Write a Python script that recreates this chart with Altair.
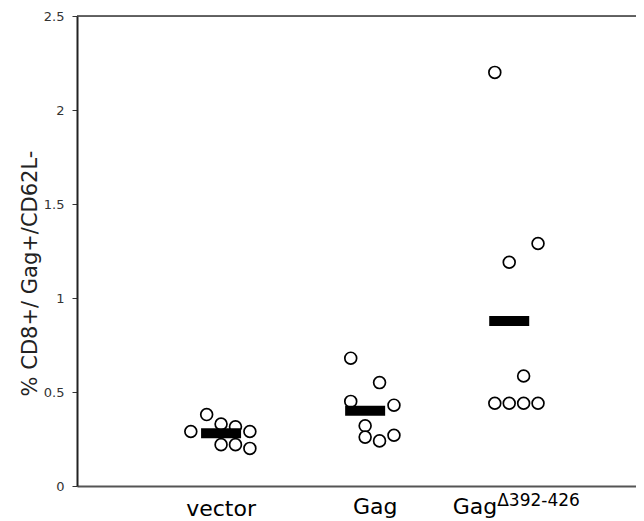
import altair as alt
import pandas as pd

# ---- data ----
categories = ["vector", "Gag", "Gag"]
superscript = "Δ392-426"
group_centers = [1, 2, 3]

vector_values = [0.38, 0.29, 0.33, 0.315, 0.29, 0.22, 0.22, 0.20]
vector_jitter = [-0.10, -0.21, 0.0, 0.10, 0.20, 0.0, 0.10, 0.20]

gag_values = [0.68, 0.55, 0.45, 0.43, 0.32, 0.26, 0.24, 0.27]
gag_jitter = [-0.10, 0.10, -0.10, 0.20, 0.0, 0.0, 0.10, 0.20]

gagd_values = [2.20, 1.29, 1.19, 0.585, 0.44, 0.44, 0.44, 0.44]
gagd_jitter = [-0.10, 0.20, 0.0, 0.10, -0.10, 0.0, 0.10, 0.20]

y_ticks = [0, 0.5, 1, 1.5, 2, 2.5]
y_title = "% CD8+/ Gag+/CD62L-"

# ---- build table ----
rows = []
for gi, (vals, jit) in enumerate([(vector_values, vector_jitter),
                                  (gag_values, gag_jitter),
                                  (gagd_values, gagd_jitter)]):
    for v, j in zip(vals, jit):
        rows.append({"group": gi, "center": group_centers[gi],
                     "x": group_centers[gi] + j, "value": v})
df = pd.DataFrame(rows)
labels = pd.DataFrame({"group": [0, 1, 2], "center": group_centers,
                       "label": categories,
                       "sup": ["", "", superscript]})

xscale = alt.Scale(domain=[0, 3.88], nice=False, zero=False)
yscale = alt.Scale(domain=[0, 2.5], nice=False)

xaxis = alt.Axis(labels=False, ticks=False, title=None, grid=False,
                 domainColor="#555", domainWidth=2)
yaxis = alt.Axis(values=y_ticks, format="~g", grid=False, tickSize=5,
                 tickColor="#333", tickWidth=1, domainColor="#222",
                 domainWidth=2, labelFontSize=13, labelColor="#333",
                 labelPadding=8, title=y_title, titleFontSize=21,
                 titleFontWeight="normal", titleColor="#222",
                 titleX=-47, titleY=257, titleBaseline="middle",
                 titleAngle=270, titleAlign="center")

points = alt.Chart(df).mark_circle(
    fill="white", stroke="black", strokeWidth=1.7, size=140,
    opacity=1, fillOpacity=1
).encode(
    x=alt.X("x:Q", scale=xscale, axis=xaxis),
    y=alt.Y("value:Q", scale=yscale, axis=yaxis),
)

means = alt.Chart(df).mark_tick(
    orient="horizontal", size=40, thickness=10, color="black", opacity=1
).encode(
    x=alt.X("center:Q", scale=xscale),
    y=alt.Y("mean(value):Q", scale=yscale),
)

top_rule = alt.Chart(pd.DataFrame({"a": [0]})).mark_rule(
    color="#333", strokeWidth=1.5
).encode(y=alt.datum(2.5))

lab_base = alt.Chart(labels)
lab_vector = lab_base.transform_filter("datum.group == 0").mark_text(
    fontSize=22, align="center", baseline="alphabetic", color="black"
).encode(x=alt.X("center:Q", scale=xscale), y=alt.value(500), text="label:N")
lab_gag = lab_base.transform_filter("datum.group == 1").mark_text(
    fontSize=22, align="center", baseline="alphabetic", color="black", dx=10
).encode(x=alt.X("center:Q", scale=xscale), y=alt.value(498), text="label:N")
lab_gagd = lab_base.transform_filter("datum.group == 2").mark_text(
    fontSize=22, align="right", baseline="alphabetic", color="black", dx=-12
).encode(x=alt.X("center:Q", scale=xscale), y=alt.value(498), text="label:N")
lab_sup = lab_base.transform_filter("datum.group == 2").mark_text(
    fontSize=17, align="left", baseline="alphabetic", color="black", dx=-12
).encode(x=alt.X("center:Q", scale=xscale), y=alt.value(490), text="sup:N")

chart = alt.layer(
    top_rule, points, means, lab_vector, lab_gag, lab_gagd, lab_sup
).properties(
    width=559, height=470,
    autosize=alt.AutoSizeParams(type="none"),
    padding={"left": 69, "top": 8, "right": 0, "bottom": 35},
).configure_view(stroke=None).configure(font="DejaVu Sans")

chart.save("out.html", embed_options={"renderer": "svg", "actions": False})
